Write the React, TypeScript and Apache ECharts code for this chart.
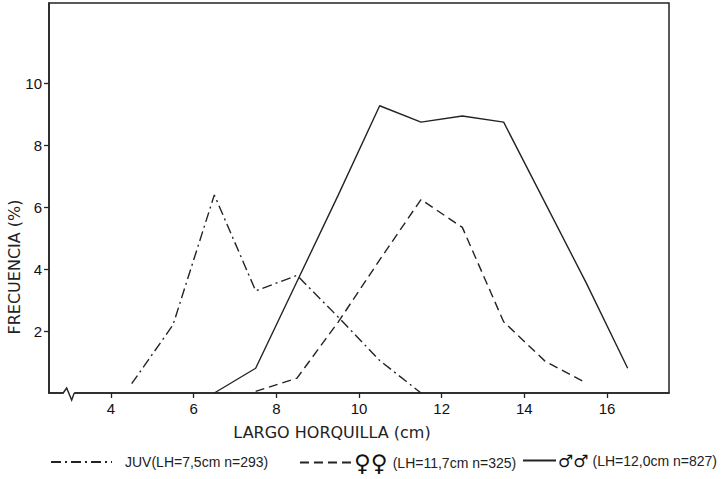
import React, { useEffect, useRef } from "react";
import * as echarts from "echarts";

// Fork-length classes (cm), class mid-points
const lengthClasses = [4.5, 5.5, 6.5, 7.5, 8.5, 9.5, 10.5, 11.5, 12.5, 13.5, 14.5, 15.5, 16.5];

// Frequency (%) per length class; null = class not present in that group
const juvenilePct = [0.3, 2.2, 6.4, 3.3, 3.8, 2.45, 1.05, 0, null, null, null, null, null];
const femalePct = [null, null, null, 0.05, 0.48, 2.3, 4.3, 6.25, 5.35, 2.3, 1.03, 0.32, null];
const malePct = [null, null, 0, 0.8, 3.6, 6.4, 9.28, 8.75, 8.95, 8.75, 6.15, 3.55, 0.8];

const xTickValues = [4, 6, 8, 10, 12, 14, 16];
const yTickValues = [2, 4, 6, 8, 10];

const seriesNames = [
  "JUV(LH=7,5cm n=293)",
  "♀♀ (LH=11,7cm n=325)",
  "♂♂ (LH=12,0cm n=827)",
];

const yAxisTitle = "FRECUENCIA (%)";
const xAxisTitle = "LARGO HORQUILLA (cm)";

const INK = "#232323";
const NUM_FONT = "Liberation Sans, Arial, sans-serif";
const TITLE_FONT = "DejaVu Sans, sans-serif";

const toPairs = (vals: (number | null)[]) =>
  lengthClasses.map((x, i) => [x, vals[i]]);

export default function App() {
  const ref = useRef<HTMLDivElement>(null);

  useEffect(() => {
    if (!ref.current) return;
    const chart = echarts.init(ref.current, undefined, { renderer: "svg" });

    const lineSeries = (name: string, vals: (number | null)[], dash: any) => ({
      name,
      type: "line",
      data: toPairs(vals),
      symbol: "none",
      connectNulls: false,
      lineStyle: { color: INK, width: 1.4, type: dash },
      itemStyle: { color: INK },
    });

    const legendText = (symSize: number, symGap: number) => ({
      fontFamily: NUM_FONT,
      fontSize: 14,
      color: "#222",
      rich: {
        sym: {
          fontFamily: TITLE_FONT,
          fontSize: symSize,
          fontWeight: "bold",
          color: "#111",
          padding: [0, symGap, 0, 0],
        },
        txt: { fontFamily: NUM_FONT, fontSize: 14, color: "#222" },
      },
    });

    const legendFormatter = (name: string) => {
      const m = name.match(/^([♀♂]+)\s(.*)$/);
      return m ? `{sym|${m[1]}}{txt|${m[2]}}` : name;
    };

    const legendBase = {
      padding: 0,
      itemHeight: 14,
      formatter: legendFormatter,
      selectedMode: false,
      itemStyle: { opacity: 0 },
    };

    chart.setOption({
      animation: false,
      backgroundColor: "#fff",
      grid: {
        left: 49,
        right: 55,
        top: 3,
        bottom: 86,
        show: true,
        borderColor: INK,
        borderWidth: 1.5,
      },
      xAxis: {
        type: "value",
        min: 2.5,
        max: 17.5,
        name: xAxisTitle,
        nameLocation: "middle",
        nameGap: 31,
        nameTextStyle: {
          fontFamily: TITLE_FONT,
          fontSize: 16,
          color: "#222",
          padding: [0, 54, 0, 0],
        },
        axisLine: { lineStyle: { color: INK, width: 1.5 } },
        axisTick: { customValues: xTickValues, length: 5, lineStyle: { color: INK, width: 1.3 } },
        axisLabel: {
          customValues: xTickValues,
          margin: 8,
          fontFamily: NUM_FONT,
          fontSize: 15,
          color: "#111",
        },
        splitLine: { show: false },
      },
      yAxis: {
        type: "value",
        min: 0,
        max: 12.6,
        axisLine: { lineStyle: { color: INK, width: 1.5 } },
        axisTick: { customValues: yTickValues, length: 5, lineStyle: { color: INK, width: 1.3 } },
        axisLabel: {
          customValues: yTickValues,
          margin: 7,
          fontFamily: NUM_FONT,
          fontSize: 15,
          color: "#111",
        },
        splitLine: { show: false },
      },
      legend: [
        {
          ...legendBase,
          data: [seriesNames[0]],
          left: 50,
          top: 455,
          itemWidth: 61,
          textStyle: { ...legendText(21, 6), padding: [0, 0, 0, 8] },
        },
        {
          ...legendBase,
          data: [seriesNames[1]],
          left: 299,
          top: 451,
          itemWidth: 52,
          textStyle: { ...legendText(23, 5), padding: [0, 0, 0, -3] },
        },
        {
          ...legendBase,
          data: [seriesNames[2]],
          left: 522,
          top: 452,
          itemWidth: 33,
          textStyle: { ...legendText(17, 4), padding: [0, 0, 0, -3] },
        },
      ],
      series: [
        lineSeries(seriesNames[0], juvenilePct, [10, 4, 2, 4]),
        lineSeries(seriesNames[1], femalePct, [9, 5]),
        lineSeries(seriesNames[2], malePct, "solid"),
      ],
    });

    // Axis-break mark on the x axis at x = 3 cm, and the vertical axis title
    const [bx, by] = chart.convertToPixel({ gridIndex: 0 }, [3, 0]) as number[];
    chart.setOption({
      graphic: [
        {
          type: "rect",
          shape: { x: bx - 6, y: by - 2, width: 10.5, height: 4 },
          style: { fill: "#fff" },
          z: 50,
        },
        {
          type: "polyline",
          shape: {
            points: [
              [bx - 6.5, by],
              [bx - 3, by - 5],
              [bx + 2, by + 7],
              [bx + 4.6, by],
            ],
          },
          style: { stroke: INK, lineWidth: 1.4, fill: "none" },
          z: 51,
        },
        {
          type: "text",
          x: 14,
          y: 267,
          rotation: Math.PI / 2,
          style: {
            text: yAxisTitle,
            fontFamily: TITLE_FONT,
            fontSize: 16,
            fill: "#222",
            textAlign: "center",
            textVerticalAlign: "middle",
          },
          z: 50,
        },
      ],
    });

    return () => chart.dispose();
  }, []);

  return (
    <div
      ref={ref}
      style={{ position: "fixed", left: 0, top: 0, width: 724, height: 479 }}
    />
  );
}
